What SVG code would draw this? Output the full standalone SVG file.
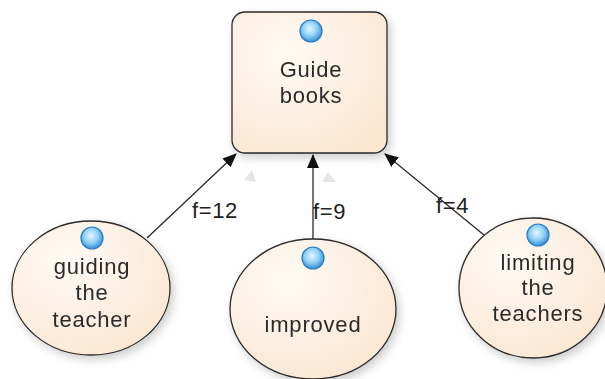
<svg xmlns="http://www.w3.org/2000/svg" width="605" height="379" viewBox="0 0 605 379">
  <defs>
    <radialGradient id="nodeFill" cx="0.35" cy="0.3" r="0.8">
      <stop offset="0" stop-color="#fffaf5"/>
      <stop offset="1" stop-color="#fbe6d1"/>
    </radialGradient>
    <radialGradient id="ball" cx="0.45" cy="0.4" r="0.6">
      <stop offset="0" stop-color="#e6f7ff"/>
      <stop offset="0.55" stop-color="#8fd0f5"/>
      <stop offset="1" stop-color="#2f8fd6"/>
    </radialGradient>
    <filter id="shadow" x="-20%" y="-20%" width="150%" height="150%">
      <feGaussianBlur in="SourceAlpha" stdDeviation="5"/>
      <feOffset dx="3" dy="4"/>
      <feComponentTransfer><feFuncA type="linear" slope="0.2"/></feComponentTransfer>
      <feMerge><feMergeNode/><feMergeNode in="SourceGraphic"/></feMerge>
    </filter>
    <marker id="arrow" viewBox="0 0 14 12" refX="13" refY="6" markerWidth="14" markerHeight="12" markerUnits="userSpaceOnUse" orient="auto">
      <path d="M0,0 L14,6 L0,12 Z" fill="#111"/>
    </marker>
  </defs>
  <style>
    .shape { fill: url(#nodeFill); stroke: #2a2a2a; stroke-width: 1.3; }
    .ball { fill: url(#ball); stroke: #2a7cc4; stroke-width: 1.2; }
    .label { font-family: "Liberation Sans", Arial, sans-serif; font-size: 22px; fill: #2b2b2b; text-anchor: middle; letter-spacing: 0.8px; }
    .edge { stroke: #2a2a2a; stroke-width: 1.3; fill: none; marker-end: url(#arrow); }
    .edge-label { font-family: "Liberation Sans", Arial, sans-serif; font-size: 22px; fill: #222; letter-spacing: 0.6px; }
    .ghost { fill: #dcdcdc; opacity: 0.7; }
  </style>
  <rect width="605" height="379" fill="#ffffff"/>

  <!-- connectors -->
  <g id="connectors">
    <line class="edge" x1="147" y1="238" x2="236" y2="154"/>
    <line class="edge" x1="313" y1="239" x2="313" y2="155"/>
    <line class="edge" x1="484" y1="235" x2="385" y2="154"/>
    <path class="ghost" d="M244,180 L252,170 L256,182 Z"/>
    <path class="ghost" d="M322,182 L328,172 L336,182 Z"/>
    <text class="edge-label" x="192" y="218">f=12</text>
    <text class="edge-label" x="313" y="219">f=9</text>
    <text class="edge-label" x="436" y="213">f=4</text>
  </g>

  <!-- central node -->
  <g id="guide-books" filter="url(#shadow)">
    <rect class="shape" x="232" y="12" width="155" height="141" rx="13"/>
    <circle class="ball" cx="311" cy="31" r="11"/>
    <text class="label" x="311" y="77">Guide</text>
    <text class="label" x="311" y="103">books</text>
  </g>

  <!-- leaf nodes -->
  <g id="guiding-the-teacher" filter="url(#shadow)">
    <ellipse class="shape" cx="91" cy="288" rx="79" ry="67"/>
    <circle class="ball" cx="92" cy="238" r="11"/>
    <text class="label" x="92" y="274">guiding</text>
    <text class="label" x="92" y="300">the</text>
    <text class="label" x="92" y="327">teacher</text>
  </g>

  <g id="improved" filter="url(#shadow)">
    <ellipse class="shape" cx="313" cy="309" rx="83" ry="70"/>
    <circle class="ball" cx="313" cy="258" r="11"/>
    <text class="label" x="313" y="332">improved</text>
  </g>

  <g id="limiting-the-teachers" filter="url(#shadow)">
    <ellipse class="shape" cx="533" cy="288" rx="74" ry="70"/>
    <circle class="ball" cx="538" cy="235" r="11"/>
    <text class="label" x="538" y="270">limiting</text>
    <text class="label" x="538" y="295">the</text>
    <text class="label" x="538" y="321">teachers</text>
  </g>
</svg>
